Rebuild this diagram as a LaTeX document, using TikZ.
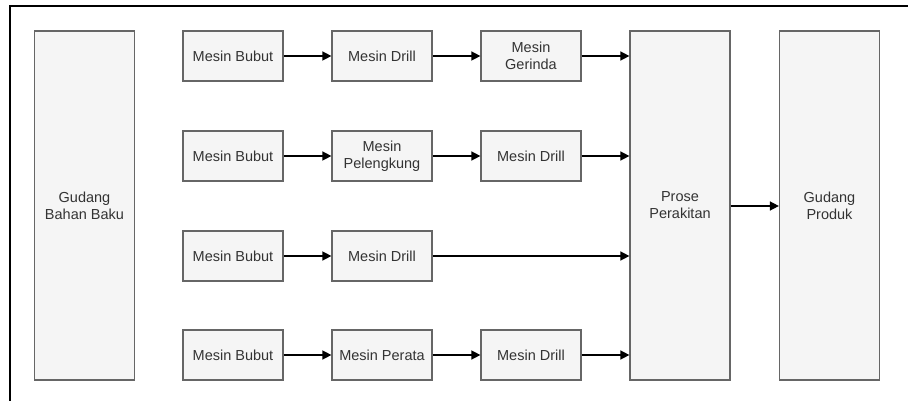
\documentclass[tikz,border=0pt]{standalone}
\usepackage{fontspec}
\setmainfont{Liberation Sans}
\usetikzlibrary{arrows.meta}
\definecolor{boxfill}{HTML}{F5F5F5}
\definecolor{boxdraw}{HTML}{666666}
\definecolor{txt}{HTML}{333333}
\tikzset{
  proc/.style={draw=boxdraw, fill=boxfill, line width=1.2pt, minimum width=100pt, minimum height=50pt,
    inner sep=0pt, align=center, text=txt, font=\fontsize{14.5}{17}\selectfont},
  tall/.style={proc, minimum height=349pt},
  conn/.style={line width=1.4pt, -{Triangle[length=9pt,width=9pt]}},
}
\begin{document}
\begin{tikzpicture}[x=1pt,y=-1pt]
\useasboundingbox (0,0) rectangle (908,401);
\draw[line width=1.8pt] (10,401) -- (10,6) -- (908,6);
\node[tall] (gbb) at (84.5,205.5) {Gudang\\Bahan Baku};
\node[tall] (pp) at (680,205.5) {Prose\\Perakitan};
\node[tall] (gp) at (829.5,205.5) {Gudang\\Produk};
% row 1
\node[proc] (b1) at (233,56) {Mesin Bubut};
\node[proc] (d1) at (382,56) {Mesin Drill};
\node[proc] (g1) at (531,56) {Mesin\\Gerinda};
% row 2
\node[proc] (b2) at (233,156) {Mesin Bubut};
\node[proc] (p2) at (382,156) {Mesin\\Pelengkung};
\node[proc] (d2) at (531,156) {Mesin Drill};
% row 3
\node[proc] (b3) at (233,256) {Mesin Bubut};
\node[proc] (d3) at (382,256) {Mesin Drill};
% row 4
\node[proc] (b4) at (233,355) {Mesin Bubut};
\node[proc] (r4) at (382,355) {Mesin Perata};
\node[proc] (d4) at (531,355) {Mesin Drill};
% connectors
\draw[conn] (b1) -- (d1);
\draw[conn] (d1) -- (g1);
\draw[conn] (g1.east) -- (g1.east -| pp.west);
\draw[conn] (b2) -- (p2);
\draw[conn] (p2) -- (d2);
\draw[conn] (d2.east) -- (d2.east -| pp.west);
\draw[conn] (b3) -- (d3);
\draw[conn] (d3.east) -- (d3.east -| pp.west);
\draw[conn] (b4) -- (r4);
\draw[conn] (r4) -- (d4);
\draw[conn] (d4.east) -- (d4.east -| pp.west);
\draw[conn] (pp.east |- 0,206) coordinate (ppo) -- (ppo -| gp.west);
\end{tikzpicture}
\end{document}
